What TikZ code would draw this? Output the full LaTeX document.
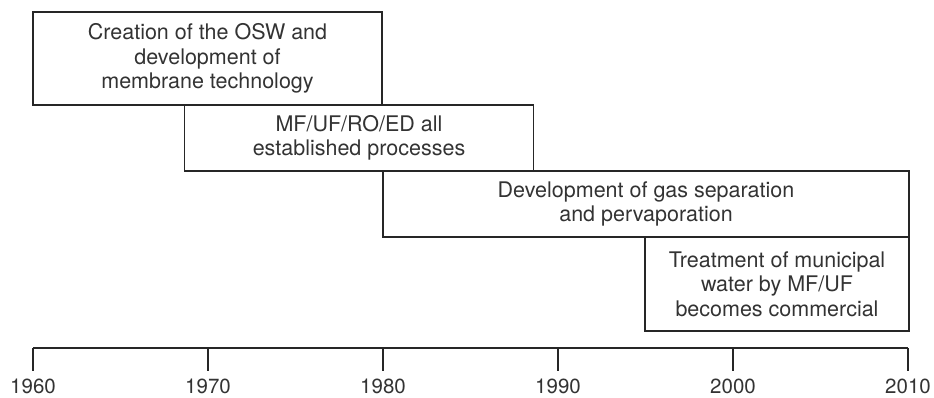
\documentclass[tikz,border=0pt]{standalone}
\usepackage{fontspec}
\setmainfont{TeX Gyre Heros}
\begin{document}
\begin{tikzpicture}[x=1pt,y=-1pt,
  evbox/.style={draw=black!85, line width=1.3pt, align=center, inner sep=0pt,
    text=black!80, font=\fontsize{21.5}{24.5}\selectfont},
  axisline/.style={draw=black!85, line width=1.3pt},
  yearlbl/.style={anchor=base, inner sep=0pt, text=black!80, font=\fontsize{20.5}{24}\selectfont}]
\useasboundingbox (0,0) rectangle (934,398);
\node[evbox, minimum width=349pt, minimum height=93pt] (b1) at (207.5,58.5)
  {Creation of the OSW and\\development of\\membrane technology};
\node[evbox, minimum width=349pt, minimum height=66pt] (b2) at (359,138)
  {MF/UF/RO/ED all\\established processes};
\node[evbox, minimum width=526pt, minimum height=66pt] (b3) at (646,204)
  {Development of gas separation\\and pervaporation};
\node[evbox, minimum width=264pt, minimum height=94pt] (b4) at (777,284)
  {Treatment of municipal\\water by MF/UF\\becomes commercial};
% axis
\foreach \yr/\w in {1960/1.3pt,1970/2.3pt,1980/1.3pt,1990/2.3pt,2000/1.3pt,2010/1.3pt}{
  \coordinate (a\yr) at ({33+17.5*(\yr-1960)},348);
  \coordinate (e\yr) at ({33+17.5*(\yr-1960)},371);
  \draw[axisline, line width=\w] (a\yr) -- (e\yr);
  \node[yearlbl] (l\yr) at ({33+17.5*(\yr-1960)},393.5) {\yr};
}
\draw[axisline] (a1960) -- (a2010);
\end{tikzpicture}
\end{document}
